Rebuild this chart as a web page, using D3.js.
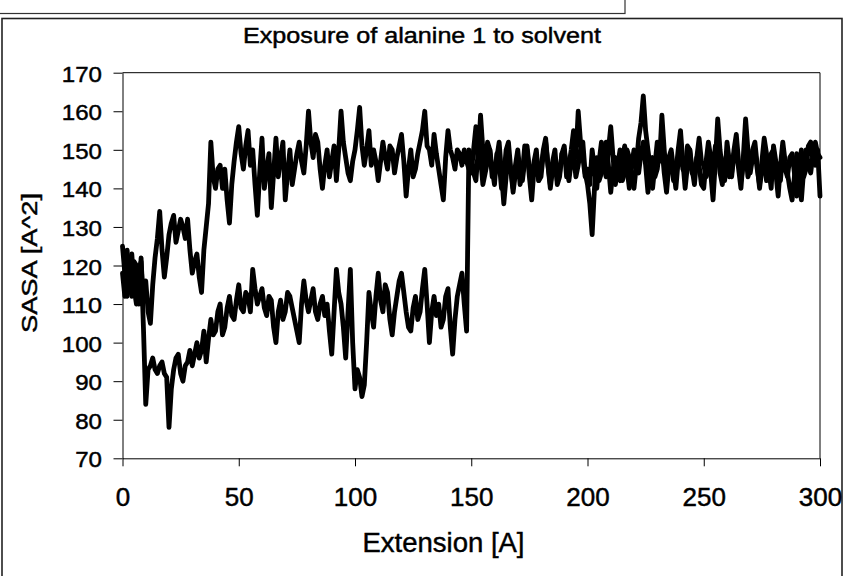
<!DOCTYPE html>
<html>
<head>
<meta charset="utf-8">
<script src="https://cdn.jsdelivr.net/npm/d3@7"></script>
<style>
  html, body { margin: 0; padding: 0; background: #fff; }
  svg { display: block; }
  text { font-family: "Liberation Sans", Arial, sans-serif; fill: #000; stroke: #000; stroke-width: 0.45px; }
</style>
</head>
<body>
<svg id="chart" width="845" height="576"></svg>
<script>
// ---- data ----
const titleText = "Exposure of alanine 1 to solvent";
const xLabelText = "Extension [A]";
const yLabelText = "SASA [A^2]";
const xTicks = [0, 50, 100, 150, 200, 250, 300];
const yTicks = [70, 80, 90, 100, 110, 120, 130, 140, 150, 160, 170];
const extension = d3.range(0, 301, 1); // 0,1,...,300 (sample positions)

const seriesA = [
  125,118,112,120,123,114,110,119,121,111,116,108,105,115,122,127,134,124,117,122,
  128,131,133,126,129,132,130,127,132,124,118,121,123,117,113,124,130,136,152,143,
  140,145,146,140,145,137,131,141,147,152,156,149,145,151,155,146,150,141,133,144,
  153,140,145,149,135,144,153,143,148,152,137,144,150,141,145,149,152,147,144,151,
  160,152,148,154,152,145,140,146,150,143,147,151,142,150,160,152,148,144,142,147,
  150,155,161,151,146,150,155,146,150,147,142,147,152,148,145,151,150,144,148,151,
  154,147,138,145,150,143,145,149,152,155,160,151,150,146,154,149,145,141,137,148,
  155,150,148,145,150,149,146,150,147,145,144,150,156,148,159,150,145,152,150,143,
  143,148,152,144,136,143,148,145,140,146,150,144,142,147,151,145,140,147,150,142,
  143,149,152,146,141,147,150,142,144,149,151,143,146,150,155,148,160,152,148,143,
  145,141,150,145,140,147,152,146,143,150,156,148,141,146,150,142,144,150,148,143,
  140,146,153,157,164,155,150,145,140,146,152,147,159,150,143,148,150,145,140,147,
  152,145,144,151,150,145,141,148,153,147,146,143,150,144,137,147,158,150,145,142,
  152,147,143,149,150,145,140,148,158,150,144,148,150,145,141,147,153,149,145,140,
  151,147,146,142,150,145,143,148,149,144,138,145,150,143,145,151,152,147,146,150,
  138
];
const seriesB = [
  118,112,124,116,112,121,120,110,122,104,84,93,94,96,93,92,94,95,92,91,
  78,88,93,96,97,92,90,94,95,98,94,97,100,96,98,103,95,101,106,102,
  103,108,110,102,104,109,112,107,106,111,115,109,108,113,112,108,119,114,110,112,
  114,109,107,112,111,104,100,108,111,106,108,113,112,109,106,103,100,110,116,111,
  108,111,114,108,106,110,112,107,110,103,97,108,119,113,110,104,96,108,119,100,
  88,93,91,86,89,100,113,108,104,112,118,111,108,115,113,106,102,108,112,116,
  118,113,108,104,103,109,112,106,108,114,119,110,100,108,112,107,110,104,106,112,
  114,104,97,106,112,115,118,110,103,150,148,144,142,150,148,141,144,147,150,145,
  141,149,147,140,143,150,152,145,139,144,148,141,144,151,150,143,137,145,149,142,
  145,150,153,146,140,145,148,141,143,149,150,145,142,147,149,143,146,150,152,144,
  141,136,128,140,148,142,144,149,152,146,139,145,148,144,142,148,151,145,140,146,
  150,145,144,149,152,146,139,144,148,143,145,150,151,144,139,146,149,142,144,150,
  155,147,140,146,150,144,143,148,146,141,140,147,152,148,145,151,150,144,141,147,
  149,143,144,150,154,147,142,146,150,143,145,150,152,146,140,145,148,142,143,149,
  150,144,138,146,152,147,144,140,137,143,149,142,137,145,150,146,144,149,152,149,
  148
];

// ---- drawing ----
const svg = d3.select("#chart");
const x = d3.scaleLinear().domain([0, 300]).range([122.5, 820]);
const y = d3.scaleLinear().domain([70, 170]).range([458.3, 72.7]);

// outer frames
svg.append("rect").attr("x", -2).attr("y", -2).attr("width", 627).attr("height", 15.5)
  .attr("fill", "none").attr("stroke", "#333").attr("stroke-width", 1.2);
svg.append("rect").attr("x", 2).attr("y", 18.5).attr("width", 840).attr("height", 600)
  .attr("fill", "#fff").attr("stroke", "#222").attr("stroke-width", 1.6);

// plot-area frame (top and right)
svg.append("path")
  .attr("d", `M${x(0)},${y(170)}H${x(300)}V${y(70)}`)
  .attr("fill", "none").attr("stroke", "#000").attr("stroke-width", 1);

// title
svg.append("text").attr("x", 422).attr("y", 43).attr("text-anchor", "middle")
  .attr("font-size", 22).attr("textLength", 358).attr("lengthAdjust", "spacingAndGlyphs")
  .text(titleText);

// axes
const yAxis = d3.axisLeft(y).tickValues(yTicks).tickSize(9).tickSizeOuter(0);
const gy = svg.append("g").attr("transform", `translate(${x(0)},0)`).call(yAxis);
gy.selectAll("path,line").attr("stroke", "#000").attr("stroke-width", 1);
gy.selectAll("text")
  .attr("x", -20.5).attr("dy", 8.6)
  .attr("font-size", 22.5).attr("font-family", "Liberation Sans, Arial, sans-serif")
  .attr("textLength", d => String(d).length * 13.4)
  .attr("lengthAdjust", "spacingAndGlyphs")
  .attr("fill", "#000");

const xAxis = d3.axisBottom(x).tickValues(xTicks).tickSize(8).tickSizeOuter(0);
const gx = svg.append("g").attr("transform", `translate(0,${y(70)})`).call(xAxis);
gx.selectAll("path,line").attr("stroke", "#000").attr("stroke-width", 1);
gx.selectAll("text")
  .attr("y", 47.7).attr("dy", 0)
  .attr("font-size", 26).attr("font-family", "Liberation Sans, Arial, sans-serif")
  .attr("fill", "#000");

// axis titles
svg.append("text").attr("x", 443.5).attr("y", 551.7).attr("text-anchor", "middle")
  .attr("font-size", 27.5).text(xLabelText);
svg.append("text").attr("transform", "translate(37,263) rotate(-90)")
  .attr("text-anchor", "middle").attr("font-size", 22)
  .attr("textLength", 140).attr("lengthAdjust", "spacingAndGlyphs")
  .text(yLabelText);

// lines
const line = d3.line().x((d, i) => x(extension[i])).y(d => y(d));
[seriesA, seriesB].forEach(s => {
  svg.append("path").datum(s).attr("d", line)
    .attr("fill", "none").attr("stroke", "#000").attr("stroke-width", 4.8)
    .attr("stroke-linejoin", "round").attr("stroke-linecap", "round");
});
</script>
</body>
</html>
